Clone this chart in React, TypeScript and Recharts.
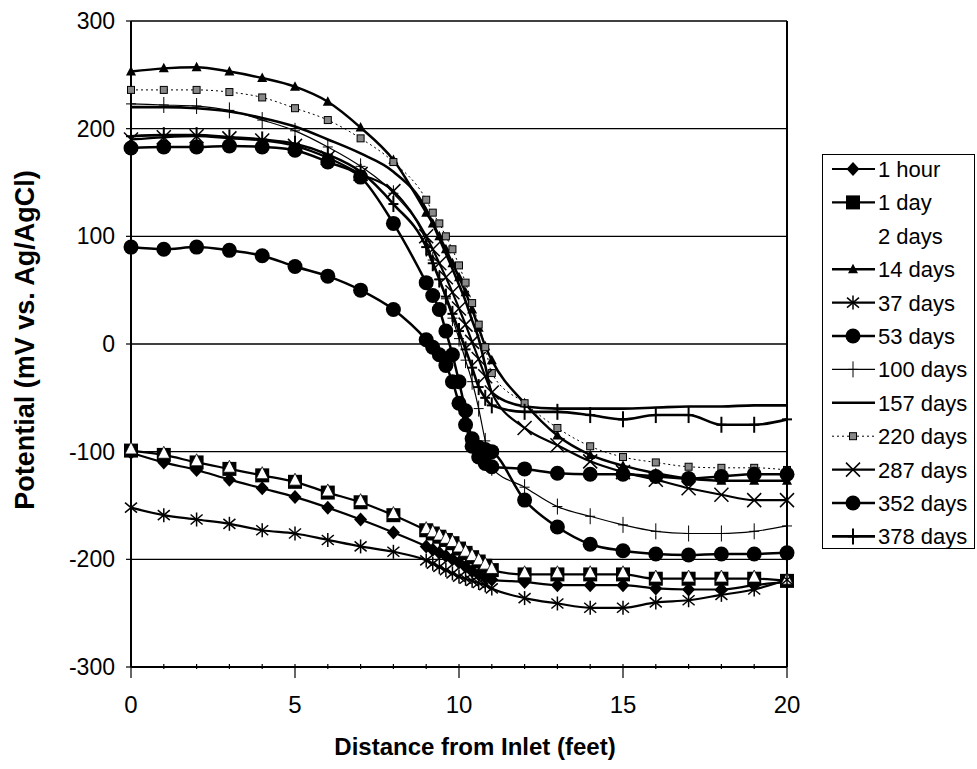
import React from 'react';
import { ComposedChart, Line, XAxis, YAxis, CartesianGrid, ReferenceLine, Label } from 'recharts';

// Distance from inlet (feet)
const distance = [0, 1, 2, 3, 4, 5, 6, 7, 8, 9, 9.2, 9.4, 9.6, 9.8, 10, 10.2, 10.4, 10.6, 10.8, 11, 12, 13, 14, 15, 16, 17, 18, 19, 20];

// Potential (mV vs. Ag/AgCl) per series
const hour1 = [-101, -110, -117, -126, -134, -142, -152, -163, -175, -188, -191, -194, -197, -200, -203, -207, -211, -214, -217, -219, -221, -224, -224, -224, -227, -228, -228, -224, -221];
const day1 = [-99, -103, -110, -116, -122, -128, -138, -147, -159, -173, -176, -179, -182, -185, -190, -194, -198, -202, -206, -210, -214, -214, -214, -214, -218, -218, -218, -218, -220];
const days2 = [-97, -101, -108, -114, -120, -126, -136, -145, -157, -171, -174, -177, -180, -183, -188, -192, -196, -200, -204, -208, -212, -212, -212, -212, -216, -216, -216, -216, -218];
const days14 = [253, 256, 257, 253, 247, 239, 225, 201, 171, 122, 112, 100, 88, 75, 62, 48, 32, 15, -2, -15, -55, -85, -103, -113, -120, -125, -127, -127, -127];
const days37 = [-152, -159, -163, -167, -173, -176, -182, -188, -193, -201, -204, -207, -210, -213, -216, -218, -220, -222, -224, -227, -236, -241, -245, -245, -240, -238, -233, -228, -219];
const days53 = [182, 183, 183, 184, 183, 180, 169, 155, 112, 57, 45, 32, 12, -10, -35, -62, -88, -96, -98, -100, -145, -170, -186, -192, -195, -196, -195, -195, -194];
const days100 = [223, 222, 221, 217, 208, 198, 183, 165, 140, 95, 78, 60, 42, 24, 5, -15, -35, -60, -90, -115, -133, -151, -160, -168, -174, -176, -176, -174, -169];
const days157 = [220, 220, 219, 216, 210, 202, 190, 177, 160, 125, 112, 98, 84, 70, 55, 40, 22, 5, -20, -45, -58, -60, -60, -60, -59, -58, -58, -57, -57];
const days220 = [236, 236, 236, 234, 229, 219, 208, 191, 169, 134, 122, 112, 100, 88, 73, 57, 38, 18, -3, -27, -55, -78, -95, -105, -110, -114, -115, -115, -117];
const days287 = [190, 192, 193, 191, 189, 184, 173, 158, 142, 100, 88, 75, 62, 48, 33, 18, 2, -14, -30, -45, -78, -94, -109, -119, -126, -134, -140, -145, -145];
const days352 = [90, 88, 90, 87, 82, 72, 63, 50, 32, 4, -3, -10, -20, -35, -55, -75, -95, -105, -111, -114, -116, -120, -121, -121, -123, -125, -123, -121, -121];
const days378 = [193, 194, 194, 192, 190, 186, 176, 160, 130, 90, 75, 60, 44, 28, 12, -5, -22, -40, -50, -57, -63, -63, -66, -70, -66, -66, -75, -75, -70];

const xTicks = [0, 1, 2, 3, 4, 5, 6, 7, 8, 9, 10, 11, 12, 13, 14, 15, 16, 17, 18, 19, 20];
const yTicks = [-300, -200, -100, 0, 100, 200, 300];

type Shape = 'diamond' | 'square' | 'triangleOpen' | 'triangle' | 'asterisk' | 'circle' | 'plusThin' | 'none' | 'smallSquare' | 'cross' | 'plusThick';

interface SeriesDef {
  key: string;
  name: string;
  values: number[];
  shape: Shape;
  stroke: string;
  width: number;
  dash?: string;
}

const series: SeriesDef[] = [
  { key: 'h1', name: '1 hour', values: hour1, shape: 'diamond', stroke: '#000', width: 2.2 },
  { key: 'd1', name: '1 day', values: day1, shape: 'square', stroke: '#000', width: 2.2 },
  { key: 'd2', name: '2 days', values: days2, shape: 'triangleOpen', stroke: 'none', width: 0 },
  { key: 'd14', name: '14 days', values: days14, shape: 'triangle', stroke: '#000', width: 2.5 },
  { key: 'd37', name: '37 days', values: days37, shape: 'asterisk', stroke: '#000', width: 2.2 },
  { key: 'd53', name: '53 days', values: days53, shape: 'circle', stroke: '#000', width: 2.5 },
  { key: 'd100', name: '100 days', values: days100, shape: 'plusThin', stroke: '#000', width: 1.2 },
  { key: 'd157', name: '157 days', values: days157, shape: 'none', stroke: '#000', width: 2.6 },
  { key: 'd220', name: '220 days', values: days220, shape: 'smallSquare', stroke: '#000', width: 1, dash: '2 3' },
  { key: 'd287', name: '287 days', values: days287, shape: 'cross', stroke: '#000', width: 2.2 },
  { key: 'd352', name: '352 days', values: days352, shape: 'circle', stroke: '#000', width: 2.5 },
  { key: 'd378', name: '378 days', values: days378, shape: 'plusThick', stroke: '#000', width: 2.6 },
];

const rows = distance.map((x, i) => {
  const r: Record<string, number> = { x };
  series.forEach((s) => { r[s.key] = s.values[i]; });
  return r;
});

function Marker({ shape, cx, cy }: { shape: Shape; cx: number; cy: number }) {
  switch (shape) {
    case 'diamond':
      return <path d={`M${cx},${cy - 7}L${cx + 6.5},${cy}L${cx},${cy + 7}L${cx - 6.5},${cy}Z`} fill="#000" />;
    case 'square':
      return <rect x={cx - 7} y={cy - 7} width={14} height={14} fill="#000" />;
    case 'triangleOpen':
      return <path d={`M${cx},${cy - 6.5}L${cx + 6},${cy + 5.5}L${cx - 6},${cy + 5.5}Z`} fill="#fff" stroke="#000" strokeWidth={0.8} />;
    case 'triangle':
      return <path d={`M${cx},${cy - 5.5}L${cx + 5},${cy + 4}L${cx - 5},${cy + 4}Z`} fill="#000" />;
    case 'asterisk':
      return (
        <g stroke="#000" strokeWidth={1.5}>
          <line x1={cx} y1={cy - 7} x2={cx} y2={cy + 7} />
          <line x1={cx - 6} y1={cy - 5} x2={cx + 6} y2={cy + 5} />
          <line x1={cx - 6} y1={cy + 5} x2={cx + 6} y2={cy - 5} />
        </g>
      );
    case 'circle':
      return <circle cx={cx} cy={cy} r={7.5} fill="#000" />;
    case 'plusThin':
      return (
        <g stroke="#000" strokeWidth={1}>
          <line x1={cx} y1={cy - 8} x2={cx} y2={cy + 8} />
          <line x1={cx - 5} y1={cy} x2={cx + 5} y2={cy} />
        </g>
      );
    case 'smallSquare':
      return <rect x={cx - 3.5} y={cy - 3.5} width={7} height={7} fill="#888" stroke="#000" strokeWidth={1} />;
    case 'cross':
      return (
        <g stroke="#000" strokeWidth={1.5}>
          <line x1={cx - 7} y1={cy - 7} x2={cx + 7} y2={cy + 7} />
          <line x1={cx - 7} y1={cy + 7} x2={cx + 7} y2={cy - 7} />
        </g>
      );
    case 'plusThick':
      return (
        <g stroke="#000" strokeWidth={2}>
          <line x1={cx} y1={cy - 8} x2={cx} y2={cy + 8} />
          <line x1={cx - 5} y1={cy} x2={cx + 5} y2={cy} />
        </g>
      );
    default:
      return null;
  }
}

const FONT = '"Liberation Sans", Arial, Helvetica, sans-serif';

function XTick(props: any) {
  const { x, y, payload } = props;
  const v = payload.value as number;
  const major = v % 5 === 0;
  return (
    <g>
      <line x1={x} x2={x} y1={y - 5} y2={major ? y + 9 : y} stroke="#000" strokeWidth={1.2} />
      {major && (
        <text x={x} y={y + 44} textAnchor="middle" fontFamily={FONT} fontSize={24} fill="#000">
          {v}
        </text>
      )}
    </g>
  );
}

function XTitle() {
  return (
    <text x={475} y={755} textAnchor="middle" fontFamily={FONT} fontSize={24} fontWeight="bold" fill="#000">
      Distance from Inlet (feet)
    </text>
  );
}

function YTitle() {
  return (
    <text x={34} y={340} transform="rotate(-90 34 340)" textAnchor="middle" fontFamily={FONT} fontSize={27} fontWeight="bold" fill="#000">
      Potential (mV vs. Ag/AgCl)
    </text>
  );
}

function LegendBox() {
  const rowH = 33.4;
  return (
    <div style={{ position: 'absolute', left: 822, top: 154, width: 153, height: 395, border: '1px solid #000', background: '#fff', boxSizing: 'border-box' }}>
      <svg width={153} height={395} style={{ position: 'absolute', left: -1, top: -1 }}>
        {series.map((s, i) => {
          const cy = 15 + i * rowH;
          return (
            <g key={s.key}>
              {s.stroke !== 'none' && (
                <line x1={10} x2={53} y1={cy} y2={cy} stroke={s.stroke} strokeWidth={s.width} strokeDasharray={s.dash} />
              )}
              {s.shape !== 'triangleOpen' && <Marker shape={s.shape} cx={31} cy={cy} />}
              <text x={56} y={cy} dy="0.36em" fontFamily={FONT} fontSize={22} fill="#000">
                {s.name}
              </text>
            </g>
          );
        })}
      </svg>
    </div>
  );
}

export default function App() {
  return (
    <div style={{ position: 'absolute', left: 0, top: 0, width: 977, height: 769, background: '#fff' }}>
      <ComposedChart width={977} height={769} data={rows} margin={{ top: 21, right: 190, bottom: 42, left: 51 }}>
        <CartesianGrid vertical={false} stroke="#000" strokeWidth={1.3} />
        <XAxis
          type="number"
          dataKey="x"
          domain={[0, 20]}
          ticks={xTicks}
          interval={0}
          tickSize={0}
          tickLine={false}
          tick={<XTick />}
          axisLine={{ stroke: '#000', strokeWidth: 2 }}
          height={60}
        >
          <Label content={<XTitle />} />
        </XAxis>
        <YAxis
          type="number"
          domain={[-300, 300]}
          ticks={yTicks}
          interval={0}
          width={80}
          tickSize={5}
          tickMargin={11}
          tickLine={{ stroke: '#000', strokeWidth: 1.2 }}
          axisLine={{ stroke: '#000', strokeWidth: 2 }}
          tick={{ fill: '#000', fontSize: 23, fontFamily: FONT }}
        >
          <Label content={<YTitle />} />
        </YAxis>
        <ReferenceLine x={20} stroke="#000" strokeWidth={2} />
        {series.map((s) => (
          <Line
            key={s.key}
            type="monotone"
            dataKey={s.key}
            name={s.name}
            stroke={s.stroke}
            strokeWidth={s.width}
            strokeDasharray={s.dash}
            isAnimationActive={false}
            activeDot={false}
            dot={(p: any) => <Marker key={`${s.key}-${p.index}`} shape={s.shape} cx={p.cx} cy={p.cy} />}
          />
        ))}
      </ComposedChart>
      <LegendBox />
    </div>
  );
}
